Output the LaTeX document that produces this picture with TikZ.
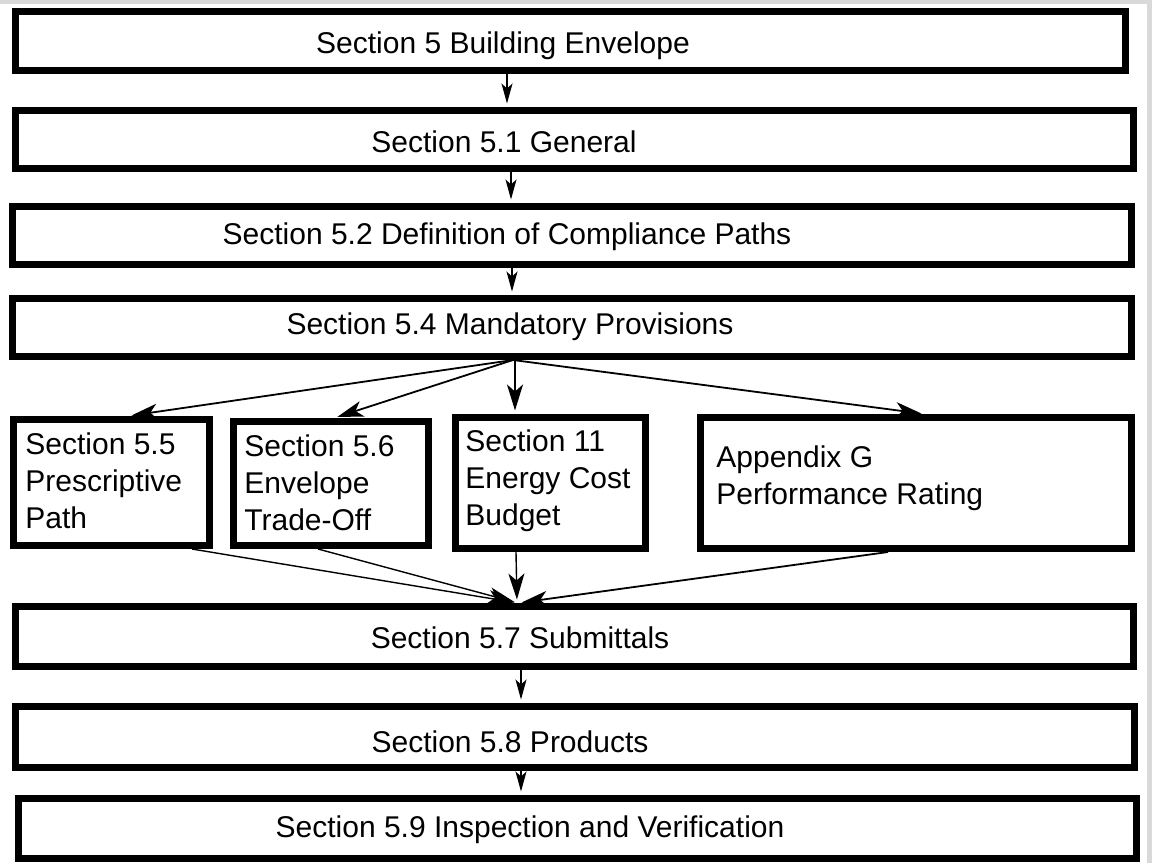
\documentclass[tikz,border=0pt]{standalone}
\usepackage{fontspec}
\setmainfont{Liberation Sans}
\usetikzlibrary{arrows.meta}
\begin{document}
\begin{tikzpicture}[x=0.5pt,y=-0.5pt,
  box/.style={draw=black, line width=3.5pt, fill=white, inner sep=0pt},
  lbl/.style={font=\fontsize{15}{18.5}\selectfont, inner sep=0pt},
  mlbl/.style={lbl, align=left, anchor=north west},
  thinarr/.style={line width=0.75pt, -{Stealth[length=10pt,width=5.5pt,inset=2.5pt]}, shorten >=1.75pt},
  fanarr/.style={line width=0.9pt, -{Stealth[length=13pt,width=8pt,inset=3.5pt]}, shorten >=1.75pt}]
\useasboundingbox (0,0) rectangle (1152,863);
\fill[white] (0,0) rectangle (1152,863);
\fill[gray!30] (0,0) rectangle (1152,4);
\fill[gray!30] (1147,0) rectangle (1152,863);

% main boxes
\node[box, minimum width=555pt, minimum height=29.5pt] (B0) at (570.5,41) {};
\node[box, minimum width=559pt, minimum height=29pt] (B1) at (574.5,139.5) {};
\node[box, minimum width=559.5pt, minimum height=29pt] (B2) at (572,235.5) {};
\node[box, minimum width=559.5pt, minimum height=29pt] (B3) at (572,327.5) {};
\node[box, minimum width=98pt, minimum height=63pt] (P55) at (111.5,482.5) {};
\node[box, minimum width=97.5pt, minimum height=62pt] (P56) at (331,483.5) {};
\node[box, minimum width=95pt, minimum height=65.5pt] (P11) at (550.5,483) {};
\node[box, minimum width=215.5pt, minimum height=65.5pt] (PG) at (916,483) {};
\node[box, minimum width=559pt, minimum height=30pt] (B7) at (574.5,636.5) {};
\node[box, minimum width=559.5pt, minimum height=30.5pt] (B8) at (575,737) {};
\node[box, minimum width=559pt, minimum height=30pt] (B9) at (577.5,828.5) {};

% labels
\node[lbl] (t0) at (503,46) {Section 5 Building Envelope};
\node[lbl] (t1) at (504,142) {Section 5.1 General};
\node[lbl] (t2) at (507,237) {Section 5.2 Definition of Compliance Paths};
\node[lbl] (t3) at (510,327) {Section 5.4 Mandatory Provisions};
\node[mlbl] (t55) at (25,432) {Section 5.5\\Prescriptive\\Path};
\node[mlbl] (t56) at (244,434) {Section 5.6\\Envelope\\Trade-Off};
\node[mlbl] (t11) at (465,429) {Section 11\\Energy Cost\\Budget};
\node[mlbl] (tG) at (716,445) {Appendix G\\Performance Rating};
\node[lbl] (t7) at (520,638) {Section 5.7 Submittals};
\node[lbl] (t8) at (510,742) {Section 5.8 Products};
\node[lbl] (t9) at (530,830) {Section 5.9 Inspection and Verification};

% vertical connectors
\draw[thinarr] (B0.south -| 507,0) -- (B1.north -| 507,0);
\draw[thinarr] (B1.south -| 511,0) -- (B2.north -| 511,0);
\draw[thinarr] (B2.south -| 512,0) -- (B3.north -| 512,0);
\draw[thinarr] (B7.south -| 521,0) -- (B8.north -| 521,0);
\draw[thinarr] (B8.south -| 521,0) -- (B9.north -| 521,0);

% fan out
\draw[fanarr] (B3.south -| 513,0) -- (P55.north -| 128,0);
\draw[fanarr] (B3.south -| 513,0) -- (P56.north -| 334,0);
\draw[fanarr] (B3.south -| 515,0) -- (P11.north -| 515,0);
\draw[fanarr] (B3.south -| 513,0) -- (PG.north -| 925,0);

% converge
\draw[fanarr, line width=0.7pt] (P55.south -| 192,0) -- (B7.north -| 518,0);
\draw[fanarr, line width=0.7pt] (P56.south -| 318,0) -- (B7.north -| 518,0);
\draw[fanarr, line width=0.7pt] (P11.south -| 516,0) -- (B7.north -| 517,0);
\draw[fanarr, line width=0.9pt] (PG.south -| 888,0) -- (B7.north -| 518,0);
\end{tikzpicture}
\end{document}
